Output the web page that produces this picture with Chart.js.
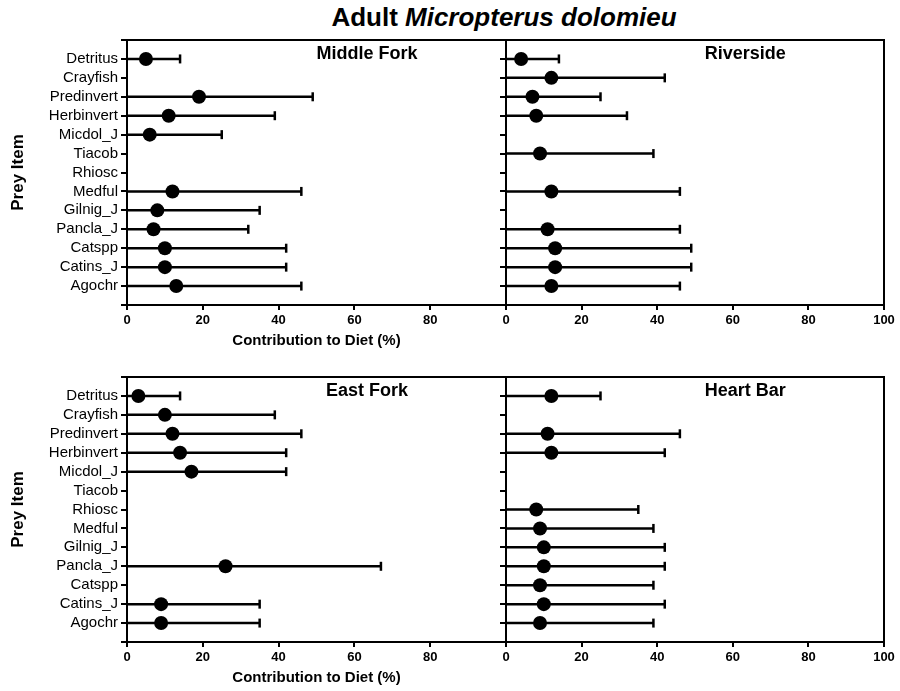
<!DOCTYPE html>
<html>
<head>
<meta charset="utf-8">
<script src="https://cdn.jsdelivr.net/npm/chart.js@4.4.1/dist/chart.umd.min.js"></script>
<style>
  html, body { margin: 0; padding: 0; background: #fff; }
  #wrap { position: relative; width: 900px; height: 691px; overflow: hidden; font-family: "Liberation Sans", Arial, sans-serif; }
  #wrap canvas { position: absolute; left: 0; top: 0; }
  #title { position: absolute; left: 0; width: 1008px; top: 2px; text-align: center; font-weight: bold; font-size: 26px; color: #000; }
</style>
</head>
<body>
<div id="wrap">
  <div id="title">Adult <i>Micropterus dolomieu</i></div>
  <canvas id="c1" width="900" height="691"></canvas>
  <canvas id="c2" width="900" height="691"></canvas>
  <canvas id="c3" width="900" height="691"></canvas>
  <canvas id="c4" width="900" height="691"></canvas>
</div>
<script>
// ---------- data ----------
const categories = ['Detritus','Crayfish','Predinvert','Herbinvert','Micdol_J','Tiacob','Rhiosc','Medful','Gilnig_J','Pancla_J','Catspp','Catins_J','Agochr'];
const xTicks = [0, 20, 40, 60, 80, 100];
const errorLow = [0, 0, 0, 0, 0, 0, 0, 0, 0, 0, 0, 0, 0];

const middleForkMean  = [5, null, 19, 11, 6, null, null, 12, 8, 7, 10, 10, 13];
const middleForkUpper = [14, null, 49, 39, 25, null, null, 46, 35, 32, 42, 42, 46];

const riversideMean   = [4, 12, 7, 8, null, 9, null, 12, null, 11, 13, 13, 12];
const riversideUpper  = [14, 42, 25, 32, null, 39, null, 46, null, 46, 49, 49, 46];

const eastForkMean    = [3, 10, 12, 14, 17, null, null, null, null, 26, null, 9, 9];
const eastForkUpper   = [14, 39, 46, 42, 42, null, null, null, null, 67, null, 35, 35];

const heartBarMean    = [12, null, 11, 12, null, null, 8, 9, 10, 10, 9, 10, 9];
const heartBarUpper   = [25, null, 46, 42, null, null, 35, 39, 42, 42, 39, 42, 39];

// ---------- helpers ----------
const FONT = '"Liberation Sans", Arial, sans-serif';

const framePlugin = {
  id: 'frame',
  afterDatasetsDraw(chart) {
    const a = chart.chartArea, ctx = chart.ctx;
    ctx.save();
    ctx.strokeStyle = '#000';
    ctx.lineWidth = 2;
    ctx.strokeRect(a.left, a.top, a.right - a.left, a.bottom - a.top);
    ctx.restore();
  }
};
const panelLabelPlugin = {
  id: 'panelLabel',
  afterDraw(chart, args, opts) {
    const a = chart.chartArea, ctx = chart.ctx;
    ctx.save();
    ctx.font = 'bold 18px ' + FONT;
    ctx.fillStyle = '#000';
    ctx.textAlign = 'center';
    ctx.textBaseline = 'middle';
    ctx.fillText(opts.text, a.left + (a.right - a.left) * 0.633, a.top + 14);
    ctx.restore();
  }
};

function makePanel(id, name, means, uppers, cfg) {
  const barPts = [], capPts = [], meanPts = [];
  means.forEach((m, i) => {
    if (m === null) return;
    barPts.push({x: errorLow[i], y: i}, {x: uppers[i], y: i}, {x: NaN, y: i});
    capPts.push({x: uppers[i], y: i});
    meanPts.push({x: m, y: i});
  });
  new Chart(document.getElementById(id), {
    type: 'scatter',
    data: {
      datasets: [
        { type: 'line', data: barPts, borderColor: '#000', borderWidth: 2.5, pointRadius: 0, spanGaps: false, fill: false, tension: 0 },
        { data: capPts, pointStyle: 'line', rotation: 90, pointRadius: 4.5, borderColor: '#000', borderWidth: 2.5, pointHoverRadius: 4.5 },
        { data: meanPts, pointStyle: 'circle', pointRadius: 7, backgroundColor: '#000', borderColor: '#000', borderWidth: 0 }
      ]
    },
    options: {
      responsive: false,
      animation: false,
      events: [],
      layout: { padding: cfg.padding },
      plugins: { legend: { display: false }, tooltip: { enabled: false }, panelLabel: { text: name } },
      scales: {
        x: {
          type: 'linear', min: 0, max: 100,
          afterBuildTicks: s => { s.ticks = xTicks.map(v => ({value: v})); },
          ticks: { color: '#000', font: { family: FONT, size: 13, weight: 'bold' }, padding: 3, maxRotation: 0,
                   callback: v => (cfg.hide100 && v === 100) ? '' : String(v) },
          grid: { display: true, drawOnChartArea: false, drawTicks: true, tickLength: 5, color: '#000', lineWidth: 2 },
          border: { display: false },
          title: { display: cfg.xTitle, text: 'Contribution to Diet (%)', color: '#000', font: { family: FONT, size: 15, weight: 'bold' }, padding: { top: 4, bottom: 0 } },
          afterFit: s => { s.height = 45; }
        },
        y: {
          type: 'linear', min: -1, max: 13, reverse: true,
          afterBuildTicks: s => { const t = []; for (let k = -1; k <= 13; k++) t.push({value: k}); s.ticks = t; },
          ticks: { color: '#000', font: { family: FONT, size: 15 }, padding: 3, autoSkip: false,
                   callback: v => cfg.yLabels && categories[v] !== undefined ? categories[v] : '' },
          grid: { display: true, drawOnChartArea: false, drawTicks: true, tickLength: 6, color: '#000', lineWidth: 2 },
          border: { display: false },
          title: { display: cfg.yLabels, text: 'Prey Item', color: '#000', font: { family: FONT, size: 17, weight: 'bold' }, padding: { top: 8, bottom: 0 } },
          afterFit: s => { s.width = cfg.yWidth; }
        }
      }
    },
    plugins: [framePlugin, panelLabelPlugin]
  });
}

// chart areas: left panels x 127..506, right panels 506..884; top 40..305, bottom 377..642
makePanel('c1', 'Middle Fork', middleForkMean, middleForkUpper,
  { padding: { left: 0, right: 394, top: 40, bottom: 341 }, yWidth: 127, yLabels: true, xTitle: true, hide100: true });
makePanel('c2', 'Riverside', riversideMean, riversideUpper,
  { padding: { left: 496, right: 16, top: 40, bottom: 341 }, yWidth: 10, yLabels: false, xTitle: false, hide100: false });
makePanel('c3', 'East Fork', eastForkMean, eastForkUpper,
  { padding: { left: 0, right: 394, top: 377, bottom: 4 }, yWidth: 127, yLabels: true, xTitle: true, hide100: true });
makePanel('c4', 'Heart Bar', heartBarMean, heartBarUpper,
  { padding: { left: 496, right: 16, top: 377, bottom: 4 }, yWidth: 10, yLabels: false, xTitle: false, hide100: false });
</script>
</body>
</html>
